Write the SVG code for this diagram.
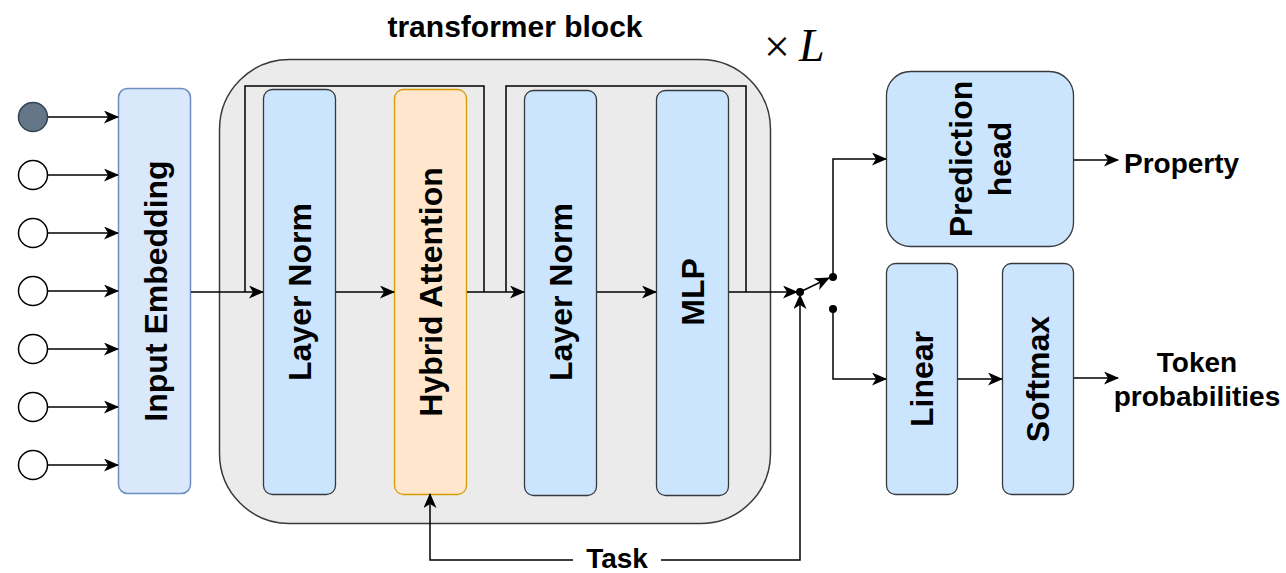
<svg xmlns="http://www.w3.org/2000/svg" width="1286" height="573" viewBox="0 0 1286 573">
  <style>
    .lbl { font-family: "Liberation Sans", Arial, sans-serif; font-weight: bold; fill: #000; }
    .blk { font-size: 32px; text-anchor: middle; dominant-baseline: central; }
    .out { font-size: 28px; }
    .math { font-family: "Liberation Serif", "DejaVu Serif", serif; fill: #000; }
    .wire { fill: none; stroke: #000; stroke-width: 1.5; }
    .arr { marker-end: url(#ah); }
    .blue { fill: #cce5ff; stroke: #36393d; stroke-width: 1.3; }
  </style>
  <defs>
    <marker id="ah" markerUnits="userSpaceOnUse" markerWidth="15" markerHeight="13" viewBox="0 0 15 13" refX="14" refY="6.5" orient="auto">
      <path d="M0,0 L15,6.5 L0,13 L4,6.5 Z" fill="#000"/>
    </marker>
  </defs>

  <rect width="1286" height="573" fill="#fff"/>

  <!-- transformer block container -->
  <g id="transformer-block">
    <rect x="219.5" y="59.5" width="551" height="464" rx="70" ry="70" fill="#ebebeb" stroke="#36393d" stroke-width="1.5"/>
    <text class="lbl" x="515" y="37" font-size="30" text-anchor="middle">transformer block</text>
    <text class="math" x="764" y="62" font-size="46">×</text>
    <text class="math" x="799" y="61" font-size="46" font-style="italic">L</text>
  </g>

  <!-- input tokens -->
  <g id="tokens">
    <circle cx="33" cy="117" r="14.5" fill="#647687" stroke="#314354" stroke-width="1.5"/>
    <circle cx="33" cy="175" r="14.5" fill="#fff" stroke="#000" stroke-width="1.5"/>
    <circle cx="33" cy="233" r="14.5" fill="#fff" stroke="#000" stroke-width="1.5"/>
    <circle cx="33" cy="291" r="14.5" fill="#fff" stroke="#000" stroke-width="1.5"/>
    <circle cx="33" cy="349" r="14.5" fill="#fff" stroke="#000" stroke-width="1.5"/>
    <circle cx="33" cy="407" r="14.5" fill="#fff" stroke="#000" stroke-width="1.5"/>
    <circle cx="33" cy="465" r="14.5" fill="#fff" stroke="#000" stroke-width="1.5"/>
  </g>

  <g id="input-embedding">
    <rect x="118.5" y="88.5" width="72" height="405" rx="9" fill="#dae8fc" stroke="#6c8ebf" stroke-width="1.5"/>
    <text class="lbl blk" transform="translate(156,291) rotate(-90)">Input Embedding</text>
  </g>

  <g id="layer-norm-1">
    <rect class="blue" x="263.5" y="89.5" width="72" height="405" rx="9"/>
    <text class="lbl blk" transform="translate(300,292) rotate(-90)">Layer Norm</text>
  </g>

  <g id="hybrid-attention">
    <rect x="394.5" y="89.5" width="72" height="405" rx="9" fill="#ffe6cc" stroke="#d79b00" stroke-width="1.3"/>
    <text class="lbl blk" transform="translate(431,292) rotate(-90)">Hybrid Attention</text>
  </g>

  <g id="layer-norm-2">
    <rect class="blue" x="524.5" y="90.5" width="72" height="405" rx="9"/>
    <text class="lbl blk" transform="translate(561,292) rotate(-90)">Layer Norm</text>
  </g>

  <g id="mlp">
    <rect class="blue" x="656.5" y="90.5" width="72" height="405" rx="9"/>
    <text class="lbl blk" transform="translate(693,292) rotate(-90)">MLP</text>
  </g>

  <g id="prediction-head">
    <rect class="blue" x="886.5" y="71.5" width="187" height="175" rx="24"/>
    <text class="lbl" font-size="32" text-anchor="middle" dominant-baseline="central" transform="translate(961,159) rotate(-90)">Prediction</text>
    <text class="lbl" font-size="32" text-anchor="middle" dominant-baseline="central" transform="translate(1000,159) rotate(-90)">head</text>
  </g>

  <g id="linear">
    <rect class="blue" x="886.5" y="263.5" width="71" height="231" rx="9"/>
    <text class="lbl blk" transform="translate(922,379) rotate(-90)">Linear</text>
  </g>

  <g id="softmax">
    <rect class="blue" x="1002.5" y="263.5" width="71" height="231" rx="9"/>
    <text class="lbl blk" transform="translate(1038,379) rotate(-90)">Softmax</text>
  </g>

  <g id="outputs">
    <text class="lbl out" x="1124" y="173">Property</text>
    <text class="lbl out" x="1197" y="372" text-anchor="middle">Token</text>
    <text class="lbl out" x="1197" y="406" text-anchor="middle">probabilities</text>
  </g>

  <g id="task">
    <text class="lbl out" x="617" y="568" text-anchor="middle">Task</text>
  </g>

  <!-- connectors -->
  <g id="connectors">
    <path class="wire arr" d="M48,117 H118"/>
    <path class="wire arr" d="M48,175 H118"/>
    <path class="wire arr" d="M48,233 H118"/>
    <path class="wire arr" d="M48,291 H118"/>
    <path class="wire arr" d="M48,349 H118"/>
    <path class="wire arr" d="M48,407 H118"/>
    <path class="wire arr" d="M48,465 H118"/>

    <path class="wire arr" d="M191,292 H263"/>
    <path class="wire" d="M245,292 V86 H484 V292"/>
    <path class="wire arr" d="M336,292 H394"/>
    <path class="wire arr" d="M467,292 H524"/>
    <path class="wire" d="M506,292 V86 H746 V292"/>
    <path class="wire arr" d="M597,292 H656"/>
    <path class="wire arr" d="M729,292 H797"/>

    <!-- task conditioning -->
    <path class="wire arr" d="M573,560 H430 V494"/>
    <path class="wire arr" d="M661,560 H800 V295"/>

    <!-- output switch -->
    <circle cx="800" cy="292" r="4" fill="#000"/>
    <path class="wire arr" d="M800,292 L829,278"/>
    <circle cx="833" cy="277" r="4" fill="#000"/>
    <circle cx="833" cy="309" r="4" fill="#000"/>
    <path class="wire arr" d="M833,277 V159 H886"/>
    <path class="wire arr" d="M833,309 V379 H886"/>
    <path class="wire arr" d="M958,379 H1002"/>
    <path class="wire arr" d="M1074,160 H1118"/>
    <path class="wire arr" d="M1074,378 H1118"/>
  </g>
</svg>
